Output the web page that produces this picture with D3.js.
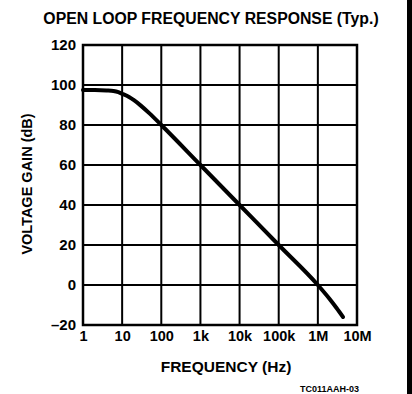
<!DOCTYPE html>
<html><head><meta charset="utf-8">
<script src="https://cdn.jsdelivr.net/npm/d3@7"></script>
<style>
html,body{margin:0;padding:0;background:#fff;}
svg{display:block;}
text{font-family:"Liberation Sans",Arial,sans-serif;font-weight:bold;fill:#000;}
</style></head>
<body>
<script>
const title = "OPEN LOOP FREQUENCY RESPONSE (Typ.)";
const xTitle = "FREQUENCY (Hz)";
const yTitle = "VOLTAGE GAIN (dB)";
const footnote = "TC011AAH-03";
const xTickValues = [1, 10, 100, 1e3, 1e4, 1e5, 1e6, 1e7];
const xTickLabels = ["1", "10", "100", "1k", "10k", "100k", "1M", "10M"];
const yTickValues = [-20, 0, 20, 40, 60, 80, 100, 120];
const yTickLabels = ["\u201320", "0", "20", "40", "60", "80", "100", "120"];
const freq = [1, 2, 4, 6, 8, 10, 15, 20, 30, 50, 100, 1e3, 1e4, 1e5, 1e6, 2e6, 3e6, 4.4e6];
const gain = [97.5, 97.5, 97.3, 97, 96.4, 95.6, 94, 92.4, 89.7, 85.8, 80, 60, 40, 20, 0, -7, -11.5, -16];

const W = 412, H = 394;
const m = {left: 83, right: 357, top: 45, bottom: 325};
const svg = d3.select("body").append("svg").attr("width", W).attr("height", H);

const x = d3.scaleLog().domain([1, 1e7]).range([m.left, m.right]);
const y = d3.scaleLinear().domain([-20, 120]).range([m.bottom, m.top]);

// grid
svg.append("g").selectAll("line").data(xTickValues.slice(1, -1)).join("line")
  .attr("x1", d => x(d)).attr("x2", d => x(d)).attr("y1", m.top).attr("y2", m.bottom)
  .attr("stroke", "#000").attr("stroke-width", 2);
svg.append("g").selectAll("line").data(yTickValues.slice(1, -1)).join("line")
  .attr("y1", d => y(d)).attr("y2", d => y(d)).attr("x1", m.left).attr("x2", m.right)
  .attr("stroke", "#000").attr("stroke-width", 2);
svg.append("rect").attr("x", m.left).attr("y", m.top)
  .attr("width", m.right - m.left).attr("height", m.bottom - m.top)
  .attr("fill", "none").attr("stroke", "#000").attr("stroke-width", 2.5);

// axes labels via d3 axes
const xAxis = d3.axisBottom(x).tickValues(xTickValues)
  .tickFormat((d, i) => xTickLabels[i]).tickSize(0).tickPadding(6);
const gx = svg.append("g").attr("transform", `translate(0,${m.bottom})`).call(xAxis);
gx.select(".domain").remove();
gx.selectAll("text").style("font-size", "14.5px").style("font-family", "Liberation Sans, Arial, sans-serif").style("font-weight", "bold");

const yAxis = d3.axisLeft(y).tickValues(yTickValues)
  .tickFormat((d, i) => yTickLabels[i]).tickSize(0).tickPadding(7);
const gy = svg.append("g").attr("transform", `translate(${m.left},0)`).call(yAxis);
gy.select(".domain").remove();
gy.selectAll("text").style("font-size", "15px").style("font-family", "Liberation Sans, Arial, sans-serif").style("font-weight", "bold");

// curve
const pts = freq.map((f, i) => [f, gain[i]]);
svg.append("path").datum(pts)
  .attr("d", d3.line().x(d => x(d[0])).y(d => y(d[1])).curve(d3.curveMonotoneX))
  .attr("fill", "none").attr("stroke", "#000").attr("stroke-width", 4)
  .attr("stroke-linecap", "round");

// titles
svg.append("text").attr("x", 211).attr("y", 24).attr("text-anchor", "middle")
  .style("font-size", "15.8px").text(title);
svg.append("text").attr("x", 226).attr("y", 372).attr("text-anchor", "middle")
  .style("font-size", "15.5px").text(xTitle);
svg.append("text").attr("transform", "translate(32,184) rotate(-90)").attr("text-anchor", "middle")
  .style("font-size", "14.5px").text(yTitle);
svg.append("text").attr("x", 300).attr("y", 392)
  .style("font-size", "9px").text(footnote);

// right edge bar
svg.append("rect").attr("x", 407).attr("y", 0).attr("width", 5).attr("height", H).attr("fill", "#000");
</script>
</body></html>
